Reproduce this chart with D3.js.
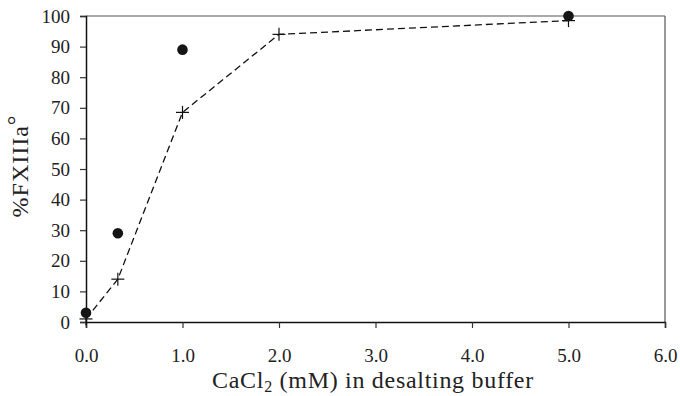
<!DOCTYPE html>
<html>
<head>
<meta charset="utf-8">
<script src="https://cdn.jsdelivr.net/npm/d3@7"></script>
<style>
  body { margin: 0; background: #fff; }
  text { font-family: "Liberation Serif", "Times New Roman", serif; fill: #222; }
</style>
</head>
<body>
<div id="chart"></div>
<script>
// data
var xTicks = [0, 1, 2, 3, 4, 5, 6];
var yTicks = [0, 10, 20, 30, 40, 50, 60, 70, 80, 90, 100];

// filled circles (no line)
var circleX = [0, 0.33, 1.0, 5.0];
var circleY = [3, 29, 89, 100];

// crosses joined by dashed line
var crossX = [0, 0.33, 1.0, 2.0, 5.0];
var crossY = [1, 14, 68.5, 94, 98.5];

var width = 680, height = 396;
var margin = { top: 16, right: 15, bottom: 74, left: 86 };
var w = width - margin.left - margin.right;
var h = height - margin.top - margin.bottom;

var svg = d3.select("#chart").append("svg")
    .attr("width", width)
    .attr("height", height);

var g = svg.append("g")
    .attr("transform", "translate(" + margin.left + "," + margin.top + ")");

var x = d3.scaleLinear().domain([0, 6]).range([0, w]);
var y = d3.scaleLinear().domain([0, 100]).range([h, 0]);

// top and right frame
g.append("line")
    .attr("x1", 0).attr("x2", w).attr("y1", 0).attr("y2", 0)
    .style("stroke", "#555").style("stroke-width", 1.2);
g.append("line")
    .attr("x1", w).attr("x2", w).attr("y1", 0).attr("y2", h)
    .style("stroke", "#555").style("stroke-width", 1.2);

// x axis
var xAxis = g.append("g")
    .attr("transform", "translate(0," + h + ")")
    .call(d3.axisBottom(x).tickValues(xTicks).tickFormat(d3.format(".1f"))
        .tickSizeOuter(0).tickSize(6).tickPadding(21));
xAxis.select(".domain").style("stroke", "#111").style("stroke-width", 1.5);
xAxis.selectAll(".tick line").style("stroke", "#333").style("stroke-width", 1.2);
xAxis.selectAll("text").style("font-size", "19px")
    .style("font-family", "'Liberation Serif', serif").style("fill", "#222");

// y axis
var yAxis = g.append("g")
    .call(d3.axisLeft(y).tickValues(yTicks).tickSizeOuter(0).tickSize(6).tickPadding(10));
yAxis.select(".domain").style("stroke", "#111").style("stroke-width", 1.5);
yAxis.selectAll(".tick line").style("stroke", "#333").style("stroke-width", 1.2);
yAxis.selectAll("text").style("font-size", "19px")
    .style("font-family", "'Liberation Serif', serif").style("fill", "#222");

// dashed line through crosses
var crossData = crossX.map(function(d, i) { return [d, crossY[i]]; });
g.append("path")
    .datum(crossData)
    .attr("d", d3.line()
        .x(function(d) { return x(d[0]); })
        .y(function(d) { return y(d[1]); }))
    .style("fill", "none")
    .style("stroke", "#111")
    .style("stroke-width", 1.3)
    .style("stroke-dasharray", "7,4");

// cross markers
var cs = 6.5;
var crosses = g.selectAll(".cross")
    .data(crossData)
    .enter().append("g")
    .attr("class", "cross")
    .attr("transform", function(d) { return "translate(" + x(d[0]) + "," + y(d[1]) + ")"; });
crosses.append("line").attr("x1", -cs).attr("x2", cs)
    .style("stroke", "#111").style("stroke-width", 1.2);
crosses.append("line").attr("y1", -cs).attr("y2", cs)
    .style("stroke", "#111").style("stroke-width", 1.2);

// filled circles
var circleData = circleX.map(function(d, i) { return [d, circleY[i]]; });
g.selectAll(".dot")
    .data(circleData)
    .enter().append("circle")
    .attr("class", "dot")
    .attr("cx", function(d) { return x(d[0]); })
    .attr("cy", function(d) { return y(d[1]); })
    .attr("r", 5.3)
    .style("fill", "#151515");

// x axis title
var xt = svg.append("text")
    .attr("x", 373)
    .attr("y", 388)
    .attr("text-anchor", "middle")
    .style("font-size", "24px")
    .style("letter-spacing", "0.7px");
xt.append("tspan").text("CaCl");
xt.append("tspan").attr("dy", 4).style("font-size", "16px").text("2");
xt.append("tspan").attr("dy", -4).text(" (mM) in desalting buffer");

// y axis title
var yt = svg.append("text")
    .attr("transform", "translate(28,166) rotate(-90)")
    .attr("text-anchor", "middle")
    .style("font-size", "24px")
    .style("letter-spacing", "1px");
yt.append("tspan").text("%FXIIIa");
yt.append("tspan").attr("dy", -4).text("°");
</script>
</body>
</html>
